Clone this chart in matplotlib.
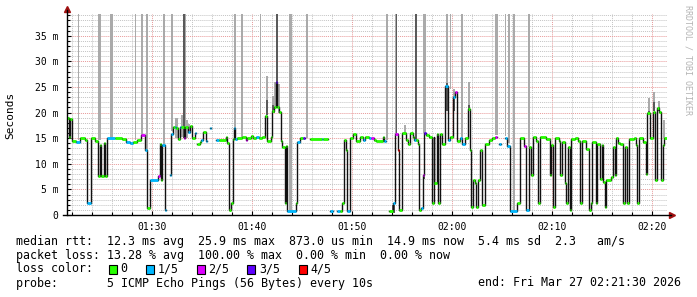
import numpy as np
import matplotlib.pyplot as plt
from matplotlib.patches import Rectangle
from matplotlib.ticker import MultipleLocator

# x = minutes after midnight (01:21:30 -> 81.5), y = milliseconds
t_end = 141.5

step_start = [
    81.50, 81.73, 81.83, 82.03, 82.40, 82.80, 83.30, 83.53, 83.85, 84.30,
    84.63, 84.80, 84.90, 85.15, 85.25, 85.53, 86.30, 87.00, 87.40, 87.80,
    88.10, 88.50, 88.87, 89.33, 89.53, 89.77, 90.60, 90.77, 90.93, 91.03,
    91.27, 91.43, 91.77, 91.93, 92.10, 92.27, 92.43, 92.60, 92.77, 92.93,
    93.17, 93.33, 93.60, 93.77, 94.03, 94.27, 94.43, 94.53, 94.80, 94.93,
    95.10, 95.37, 95.50, 95.77, 95.87, 96.37, 96.70, 97.37, 97.53, 97.70,
    97.93, 98.10, 98.20, 98.30, 98.53, 99.03, 99.37, 99.53, 99.90, 100.10,
    100.37, 100.70, 101.03, 101.33, 101.53, 101.87, 101.97, 102.20, 102.37, 102.53,
    102.70, 102.87, 103.03, 103.27, 103.37, 103.53, 104.40, 104.53, 104.80, 105.07,
    105.30, 105.80, 106.97, 107.13, 107.63, 107.80, 108.07, 108.47, 108.80, 108.97,
    109.20, 109.40, 109.53, 109.80, 110.13, 110.37, 110.83, 111.13, 111.30, 111.73,
    111.90, 112.23, 112.40, 113.07, 113.23, 113.40, 113.73, 114.07, 114.30, 114.57,
    114.73, 115.03, 115.40, 115.57, 115.80, 116.07, 116.23, 116.40, 116.57, 116.73,
    116.90, 117.07, 117.23, 117.40, 117.73, 118.00, 118.17, 118.23, 118.47, 118.57,
    118.80, 119.00, 119.33, 119.60, 119.83, 120.07, 120.30, 120.53, 120.83, 121.03,
    121.27, 121.60, 121.77, 121.93, 122.10, 122.27, 122.43, 122.60, 122.83, 123.03,
    123.27, 123.67, 124.00, 124.33, 124.53, 124.73, 124.87, 125.27, 125.50, 125.83,
    126.50, 126.77, 127.20, 127.37, 127.70, 127.93, 128.10, 128.43, 128.60, 128.77,
    129.43, 129.77, 129.93, 130.10, 130.33, 130.67, 130.83, 131.03, 131.27, 131.43,
    131.60, 131.77, 131.93, 132.27, 132.60, 132.83, 133.00, 133.40, 133.70, 133.87,
    134.00, 134.37, 134.53, 134.80, 134.97, 135.13, 135.30, 135.43, 135.87, 136.10,
    136.27, 136.37, 136.60, 136.80, 137.13, 137.30, 137.53, 137.70, 138.20, 138.37,
    138.53, 138.70, 139.13, 139.37, 139.53, 139.83, 140.07, 140.27, 140.53, 140.73,
    140.87, 141.07, 141.17,
]
nan = np.nan
median_ms = [
    19.0, 15.2, 18.7, 14.5, 14.3, 15.0, 14.6, 2.4, 15.0, 14.4,
    7.7, 13.6, 7.7, 14.0, 7.7, 15.0, 15.0, 14.8, 14.3, 14.0,
    14.3, 14.6, 15.6, 12.6, 1.4, 6.8, 7.6, 13.9, 6.8, 13.6,
    1.0, nan, 7.8, 15.9, 17.2, 17.2, 17.0, 14.9, 17.2, 17.2,
    15.0, 17.2, 16.2, 17.3, 15.0, 16.0, nan, 13.9, 14.2, 14.6,
    16.3, 14.4, nan, 16.9, nan, 14.6, 14.7, 15.2, 14.0, 1.0,
    2.4, 14.9, 16.9, 14.9, 15.0, 15.2, 14.6, 15.0, 15.5, 15.0,
    15.2, 15.0, 15.2, 19.4, 14.4, 15.2, 20.4, 21.0, 25.9, 21.1,
    20.1, 14.4, 13.3, 2.3, 13.5, 0.75, 2.3, 14.3, 15.0, 15.1,
    nan, 14.8, 14.8, 14.8, nan, 0.75, nan, 0.75, 0.75, 2.3,
    14.6, 12.6, 0.75, 15.0, 15.9, 14.4, 15.3, 14.6, 15.2, 15.0,
    15.0, 14.6, 14.4, 15.3, 14.4, nan, 0.75, 2.3, 15.9, 12.6,
    1.0, 16.0, 14.6, 13.9, 16.0, 15.3, 14.6, 14.6, 13.9, 1.0,
    1.3, 7.8, 16.0, 15.6, 15.3, 2.3, 15.3, 6.3, 15.9, 2.3,
    15.9, 13.9, 25.1, 14.6, 15.3, 23.1, 24.0, 14.4, 15.0, 13.9,
    15.0, 20.7, 12.6, 1.5, 6.8, 6.3, 1.5, 6.8, 12.6, 2.0,
    13.9, 14.6, 15.0, 15.3, nan, 13.9, nan, 15.0, 13.5, 0.75,
    2.3, 15.0, 13.5, 1.0, 13.3, 7.8, 15.2, 14.4, 2.3, 15.2,
    14.8, 7.8, 13.6, 1.5, 15.0, 14.4, 7.8, 14.3, 6.3, 2.3,
    13.3, 1.0, 14.8, 15.0, 14.4, 2.3, 14.4, 12.8, 1.0, 2.4,
    14.3, 2.3, 13.9, 7.1, 13.6, 6.5, 1.6, 6.8, 7.5, 13.3,
    7.8, 15.0, 14.1, 13.9, 2.3, 13.2, 2.3, 14.8, 15.0, 13.6,
    2.3, 15.1, 14.3, 8.1, 19.9, 15.1, 20.1, 6.8, 20.9, 20.1,
    6.8, 13.6, 15.0,
]
loss_level = [
    0, 0, 0, 0, 1, 0, 0, 1, 0, 0,
    0, 0, 0, 0, 0, 1, 0, 0, 1, 1,
    0, 0, 2, 1, 0, 1, 2, 0, 0, 1,
    1, 0, 1, 1, 0, 1, 0, 0, 1, 0,
    2, 0, 1, 0, 0, 1, 0, 0, 0, 1,
    0, 1, 0, 1, 0, 1, 0, 0, 0, 0,
    0, 0, 1, 1, 0, 0, 2, 0, 0, 0,
    1, 0, 0, 0, 0, 0, 0, 0, 3, 0,
    0, 0, 0, 0, 0, 1, 0, 1, 0, 3,
    0, 0, 1, 0, 0, 1, 0, 1, 0, 0,
    0, 0, 1, 0, 0, 0, 0, 1, 0, 1,
    2, 0, 0, 0, 1, 0, 0, 1, 2, 4,
    0, 0, 0, 0, 0, 0, 1, 0, 0, 0,
    1, 2, 3, 0, 0, 0, 0, 0, 0, 0,
    0, 0, 1, 1, 0, 1, 2, 0, 1, 1,
    0, 0, 0, 0, 0, 0, 0, 0, 0, 0,
    0, 0, 0, 2, 0, 1, 0, 1, 1, 1,
    0, 0, 2, 1, 0, 0, 0, 0, 0, 0,
] + [0] * 53

# smoke (ping spread) bands
smoke_x0 = [82.57, 83.75, 84.57, 85.80, 88.27, 88.90, 89.37, 91.10, 91.90, 93.07,
            93.13, 92.33, 92.87, 93.37, 93.60, 98.20, 98.87, 100.80, 101.37, 101.37,
            102.03, 102.03, 102.37, 102.15, 102.60, 103.67, 105.40, 113.40, 114.27, 114.40,
            114.00, 115.23, 116.33, 117.07, 117.17, 119.40, 119.40, 119.83, 120.08, 120.08,
            120.87, 121.57, 121.57, 124.33, 125.27, 125.57, 126.07, 127.60, 139.60, 139.60,
            140.10, 140.10, 140.60, 140.60, 141.10]
smoke_x1 = [82.73, 83.85, 84.90, 86.10, 88.37, 89.07, 89.60, 91.30, 92.07, 93.40,
            93.33, 92.60, 93.13, 93.60, 93.83, 98.43, 99.10, 100.90, 101.60, 101.60,
            102.27, 102.27, 102.60, 102.37, 102.77, 103.97, 105.60, 113.63, 114.53, 114.53,
            114.30, 115.40, 116.47, 117.40, 117.30, 119.60, 119.60, 119.93, 120.33, 120.33,
            121.10, 121.77, 121.77, 124.57, 125.40, 125.80, 126.27, 127.80, 139.80, 139.80,
            140.30, 140.30, 140.80, 140.80, 141.30]
smoke_lo = [14.6, 1.0, 14.6, 15.0, 14.6, 15.5, 12.6, 13.5, 16.5, 15.0,
            15.0, 15.0, 15.2, 15.0, 16.0, 15.0, 15.0, 15.3, 19.5, 19.5,
            20.0, 20.0, 25.9, 21.0, 20.0, 0.5, 15.0, 14.6, 15.9, 15.9,
            0.3, 16.0, 14.6, 16.0, 7.0, 25.1, 20.4, 24.6, 20.4, 20.4,
            14.6, 20.4, 20.4, 15.6, 15.4, 14.0, 0.5, 13.3, 19.7, 19.7,
            20.4, 20.4, 20.4, 20.4, 15.0]
smoke_hi = [45, 45, 45, 45, 45, 45, 45, 45, 45, 45,
            45, 19.0, 19.6, 18.6, 17.8, 45, 45, 45, 27.2, 22.5,
            23.3, 21.5, 45, 26.0, 25.6, 45, 45, 45, 45, 45,
            2.0, 17.5, 45, 45, 16.0, 45, 25.7, 45, 24.6, 23.0,
            45, 25.9, 21.4, 45, 45, 45, 45, 45, 22.9, 20.4,
            24.0, 22.0, 22.2, 21.0, 18.6]
smoke_dark = [0, 0, 0, 0, 0, 0, 0, 0, 0, 0,
              1, 0, 0, 0, 0, 0, 0, 0, 0, 1,
              0, 1, 1, 0, 0, 0, 0, 0, 0, 1,
              1, 0, 1, 0, 1, 0, 1, 0, 0, 1,
              0, 0, 1, 0, 0, 0, 0, 0, 0, 1,
              0, 1, 0, 1, 0]

x_ticks = [90, 100, 110, 120, 130, 140]
x_labels = ['01:30', '01:40', '01:50', '02:00', '02:10', '02:20']
y_ticks = [0, 5, 10, 15, 20, 25, 30, 35]
y_labels = ['0', '5 m', '10 m', '15 m', '20 m', '25 m', '30 m', '35 m']

loss_names = ['0', '1/5', '2/5', '3/5', '4/5']
loss_colors = ['#26ff00', '#00b8ff', '#dd00ff', '#5e00ff', '#ff0000']

line_rtt = 'median rtt:  12.3 ms avg  25.9 ms max  873.0 us min  14.9 ms now  5.4 ms sd  2.3   am/s'
line_loss = 'packet loss: 13.28 % avg  100.00 % max  0.00 % min  0.00 % now'
line_probe = 'probe:       5 ICMP Echo Pings (56 Bytes) every 10s'
line_end = 'end: Fri Mar 27 02:21:30 2026'

W, H = 697, 297
MONO = 'DejaVu Sans Mono'


def fx(px):
    return px / W


def fy(py):
    return 1 - py / H


fig = plt.figure(figsize=(W / 100, H / 100), dpi=100)
ax = fig.add_axes([fx(67), fy(215), 600 / W, 201 / H])
ax.set_xlim(81.5, t_end)
ax.set_ylim(0, 39.25)

# grid
ax.xaxis.set_minor_locator(MultipleLocator(2))
ax.yaxis.set_minor_locator(MultipleLocator(1))
ax.set_axisbelow(True)
ax.grid(which='minor', color='#c4c4c4', linestyle=(0, (1, 1)), lw=0.7)
ax.grid(which='major', color='#e89a9a', linestyle=(0, (1, 1)), lw=0.7)

# smoke
smoke_cols = ['#5a5a5a' if d else '#aaaaaa' for d in smoke_dark]
x0 = np.array(smoke_x0)
ax.bar(x0, np.array(smoke_hi) - np.array(smoke_lo), width=np.array(smoke_x1) - x0,
       bottom=smoke_lo, align='edge', color=smoke_cols, lw=0, zorder=2)

# median line
xs = np.array(step_start + [t_end])
ys = np.array(median_ms + [median_ms[-1]])
ax.plot(xs, ys, drawstyle='steps-post', color='#111111', lw=1.0, zorder=3)

med = np.array(median_ms)
ok = ~np.isnan(med)
seg_cols = [loss_colors[l] for l in loss_level]
ax.hlines(med[ok], xs[:-1][ok], xs[1:][ok],
          colors=[c for c, k in zip(seg_cols, ok) if k], lw=2.0, zorder=4)

# axes
for s in ax.spines.values():
    s.set_visible(False)
ax.plot([-0.007, 1.006], [0, 0], color='black', lw=1, transform=ax.transAxes, clip_on=False, zorder=5)
ax.plot([0, 0], [0, 1.02], color='black', lw=1, transform=ax.transAxes, clip_on=False, zorder=5)
ax.plot([1.008], [0], marker='>', ms=4, color='#a01010', transform=ax.transAxes, clip_on=False)
ax.plot([0], [1.025], marker='^', ms=4, color='#a01010', transform=ax.transAxes, clip_on=False)

ax.set_xticks(x_ticks, x_labels)
ax.set_yticks(y_ticks, y_labels)
ax.tick_params(which='both', direction='in', color='black', width=0.8)
ax.tick_params(which='major', length=3)
ax.tick_params(which='minor', length=2)
ax.tick_params(axis='y', pad=6)
ax.tick_params(axis='x', pad=5)
for lab in ax.get_xticklabels() + ax.get_yticklabels():
    lab.set_fontfamily(MONO)
    lab.set_fontsize(7)

fig.text(fx(10), fy(115), 'Seconds', rotation=90, ha='center', va='center',
         family=MONO, size=8)
fig.text(fx(688), fy(60), 'RRDTOOL / TOBI OETIKER', rotation=270, ha='center',
         va='center', family=MONO, size=6, color='#b4b4b4')

# legend
fig.text(fx(16), fy(241), line_rtt, ha='left', va='center', family=MONO, size=8.4)
fig.text(fx(16), fy(255), line_loss, ha='left', va='center', family=MONO, size=8.4)
fig.text(fx(16), fy(269), 'loss color:', ha='left', va='center', family=MONO, size=8.4)
box_x = [108.5, 146, 196.5, 247, 298.5]
for bx, name, col in zip(box_x, loss_names, loss_colors):
    fig.add_artist(Rectangle((fx(bx), fy(273.5)), 8 / W, 9 / H, transform=fig.transFigure,
                             facecolor=col, edgecolor='black', lw=0.8))
    fig.text(fx(bx + 12), fy(269), name, ha='left', va='center', family=MONO, size=8.4)
fig.text(fx(16), fy(283), line_probe, ha='left', va='center', family=MONO, size=8.4)
fig.text(fx(681), fy(283), line_end, ha='right', va='center', family=MONO, size=8.4)

fig.savefig('out.png', dpi=100)
